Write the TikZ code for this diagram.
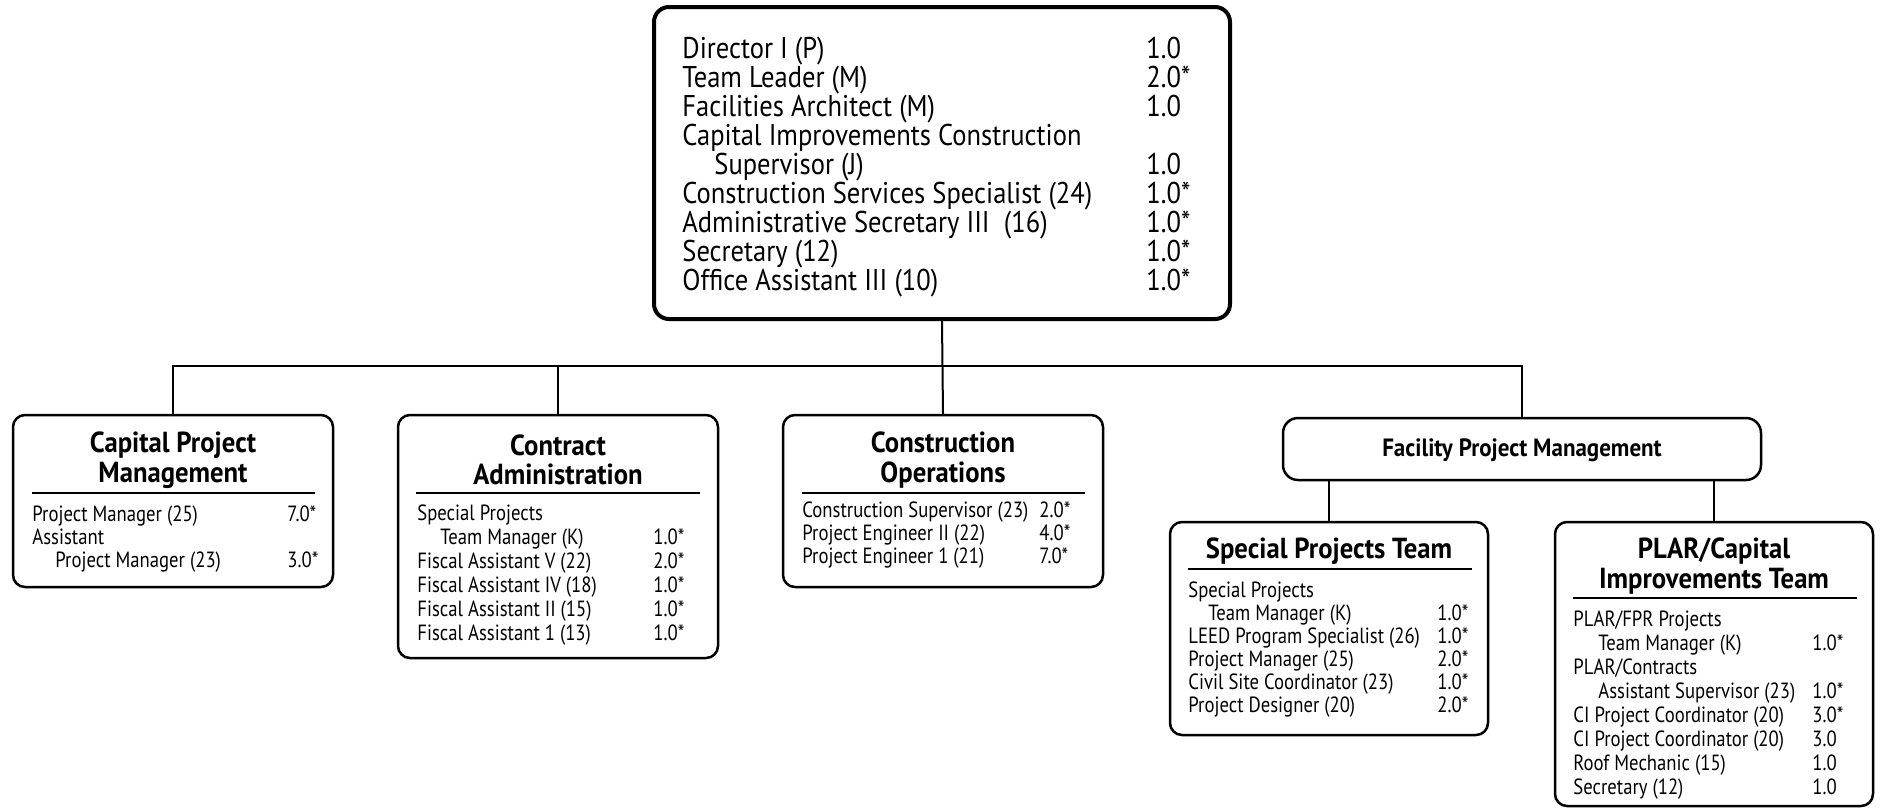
\documentclass[tikz,border=0pt]{standalone}
\usepackage{fontspec}
\newfontfamily\ofont[FakeStretch=0.85]{PT Sans}
\newfontfamily\tfont[FakeStretch=0.885]{PT Sans}
\newfontfamily\hfont[FakeStretch=0.92]{PT Sans}
\newcommand\rowlab[4]{\node[itm] (#1) at (#2,#3) {#4};}
\tikzset{
  topbox/.style={draw, line width=2pt, rounded corners=7.5pt, inner sep=0pt},
  subbox/.style={draw, line width=1.25pt, rounded corners=6pt, inner sep=0pt},
  conn/.style={line width=1pt},
  rulel/.style={line width=0.6pt},
  toptxt/.style={anchor=mid west, inner sep=0pt, font=\tfont\fontsize{15}{15}\selectfont},
  itm/.style={anchor=mid west, inner sep=0pt, font=\ofont\fontsize{11}{12}\selectfont},
  head/.style={align=center, inner sep=0pt, font=\hfont\bfseries\fontsize{14.5}{14.75}\selectfont},
}
\begin{document}
\begin{tikzpicture}[x=0.5pt,y=-0.5pt]
\useasboundingbox (0,0) rectangle (1881,810);
% boxes
\node[topbox, minimum width=288pt, minimum height=156pt] (top) at (942,163) {};
\node[subbox, minimum width=160pt, minimum height=86pt] (cpm) at (173,501) {};
\node[subbox, minimum width=160pt, minimum height=121.5pt] (ca) at (558,536.5) {};
\node[subbox, minimum width=160pt, minimum height=86pt] (co) at (943,501) {};
\node[subbox, minimum width=239pt, minimum height=31pt, rounded corners=7.5pt] (fpm) at (1522,449) {};
\node[subbox, minimum width=159pt, minimum height=106.5pt] (spt) at (1329,628.5) {};
\node[subbox, minimum width=159pt, minimum height=142pt] (plar) at (1714,664) {};
% connectors
\coordinate (bus) at (0,366);
\draw[conn] (top.south) -- (co.north);
\draw[conn] (cpm.north) -- (cpm.north |- bus) -- (fpm.north |- bus) -- (fpm.north);
\draw[conn] (ca.north) -- (ca.north |- bus);
\draw[conn] (spt.north) -- (spt.north |- fpm.south);
\draw[conn] (plar.north) -- (plar.north |- fpm.south);
% top text
\node[toptxt] (t1) at (682,54) {Director I (P)};
\node[toptxt] (t1n) at (1146,54) {1.0};
\node[toptxt] (t2) at (682,83) {Team Leader (M)};
\node[toptxt] (t2n) at (1146,83) {2.0*};
\node[toptxt] (t3) at (682,112) {Facilities Architect (M)};
\node[toptxt] (t3n) at (1146,112) {1.0};
\node[toptxt] (t4) at (682,141) {Capital Improvements Construction};
\node[toptxt] (t5) at (714,170) {Supervisor (J)};
\node[toptxt] (t5n) at (1146,170) {1.0};
\node[toptxt] (t6) at (682,199) {Construction Services Specialist (24)};
\node[toptxt] (t6n) at (1146,199) {1.0*};
\node[toptxt] (t7) at (682,228) {Administrative Secretary III\ \ (16)};
\node[toptxt] (t7n) at (1146,228) {1.0*};
\node[toptxt] (t8) at (682,257) {Secretary (12)};
\node[toptxt] (t8n) at (1146,257) {1.0*};
\node[toptxt] (t9) at (682,286) {Office Assistant III (10)};
\node[toptxt] (t9n) at (1146,286) {1.0*};
% Capital Project Management
\node[head] (cpmh) at (173,460) {Capital Project\\Management};
\draw[rulel] (32,493) coordinate (cpmr1) -- (315,493) coordinate (cpmr2);
\rowlab{c1}{32}{517}{Project Manager (25)}
\rowlab{c1n}{287}{517}{7.0*}
\rowlab{c2}{32}{540}{Assistant}
\rowlab{c3}{55}{563}{Project Manager (23)}
\rowlab{c3n}{287}{563}{3.0*}
% Contract Administration
\node[head] (cah) at (558,460) {Contract\\Administration};
\draw[rulel] (416,493) coordinate (car1) -- (700,493) coordinate (car2);
\rowlab{a1}{417}{516}{Special Projects}
\rowlab{a2}{440}{540}{Team Manager (K)}
\rowlab{a2n}{653}{540}{1.0*}
\rowlab{a3}{417}{564}{Fiscal Assistant V (22)}
\rowlab{a3n}{653}{564}{2.0*}
\rowlab{a4}{417}{588}{Fiscal Assistant IV (18)}
\rowlab{a4n}{653}{588}{1.0*}
\rowlab{a5}{417}{612}{Fiscal Assistant II (15)}
\rowlab{a5n}{653}{612}{1.0*}
\rowlab{a6}{417}{636}{Fiscal Assistant 1 (13)}
\rowlab{a6n}{653}{636}{1.0*}
% Construction Operations
\node[head] (coh) at (943,460) {Construction\\Operations};
\draw[rulel] (802,493) coordinate (cor1) -- (1085,493) coordinate (cor2);
\rowlab{o1}{802}{513}{Construction Supervisor (23)}
\rowlab{o1n}{1039}{513}{2.0*}
\rowlab{o2}{802}{536}{Project Engineer II (22)}
\rowlab{o2n}{1039}{536}{4.0*}
\rowlab{o3}{802}{559}{Project Engineer 1 (21)}
\rowlab{o3n}{1039}{559}{7.0*}
% Facility Project Management
\node[head, font=\hfont\bfseries\fontsize{12.5}{13}\selectfont] (fpmh) at (1522,450) {Facility Project Management};
% Special Projects Team
\node[head] (spth) at (1329,551) {Special Projects Team};
\draw[rulel] (1188,569) coordinate (sr1) -- (1472,569) coordinate (sr2);
\rowlab{s1}{1188}{593}{Special Projects}
\rowlab{s2}{1208}{616}{Team Manager (K)}
\rowlab{s2n}{1437}{616}{1.0*}
\rowlab{s3}{1188}{639}{LEED Program Specialist (26)}
\rowlab{s3n}{1437}{639}{1.0*}
\rowlab{s4}{1188}{662}{Project Manager (25)}
\rowlab{s4n}{1437}{662}{2.0*}
\rowlab{s5}{1188}{685}{Civil Site Coordinator (23)}
\rowlab{s5n}{1437}{685}{1.0*}
\rowlab{s6}{1188}{708}{Project Designer (20)}
\rowlab{s6n}{1437}{708}{2.0*}
% PLAR/Capital Improvements Team
\node[head] (plarh) at (1714,566) {PLAR/Capital\\Improvements Team};
\draw[rulel] (1573,598) coordinate (pr1) -- (1857,598) coordinate (pr2);
\rowlab{p1}{1573}{622}{PLAR/FPR Projects}
\rowlab{p2}{1598}{646}{Team Manager (K)}
\rowlab{p2n}{1812}{646}{1.0*}
\rowlab{p3}{1573}{670}{PLAR/Contracts}
\rowlab{p4}{1598}{694}{Assistant Supervisor (23)}
\rowlab{p4n}{1812}{694}{1.0*}
\rowlab{p5}{1573}{718}{CI Project Coordinator (20)}
\rowlab{p5n}{1812}{718}{3.0*}
\rowlab{p6}{1573}{742}{CI Project Coordinator (20)}
\rowlab{p6n}{1812}{742}{3.0}
\rowlab{p7}{1573}{766}{Roof Mechanic (15)}
\rowlab{p7n}{1812}{766}{1.0}
\rowlab{p8}{1573}{790}{Secretary (12)}
\rowlab{p8n}{1812}{790}{1.0}
\end{tikzpicture}
\end{document}
